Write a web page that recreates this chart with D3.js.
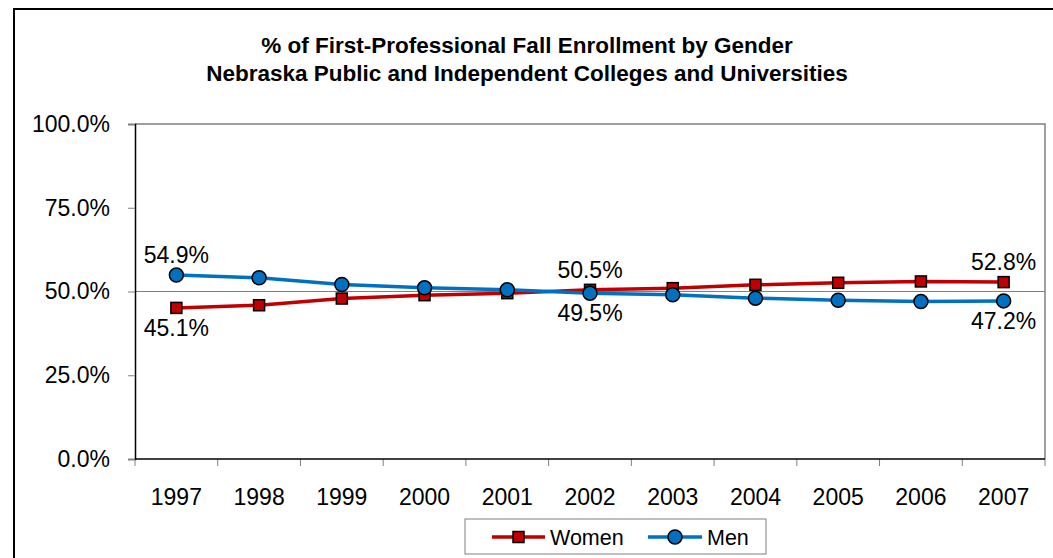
<!DOCTYPE html>
<html>
<head>
<meta charset="utf-8">
<script src="https://cdn.jsdelivr.net/npm/d3@7"></script>
<style>
    body { margin: 0; background: #fff; }
    text { font-family: "Liberation Sans", Arial, sans-serif; }
</style>
</head>
<body>
<div id="chart"></div>
<script>
const years = ["1997", "1998", "1999", "2000", "2001", "2002", "2003", "2004", "2005", "2006", "2007"];
const women = [45.1, 45.9, 47.9, 48.9, 49.5, 50.5, 51.0, 52.0, 52.6, 53.0, 52.8];
const men = [54.9, 54.1, 52.1, 51.1, 50.5, 49.5, 49.0, 48.0, 47.4, 47.0, 47.2];
const yTicks = [0, 25, 50, 75, 100];
const labelYears = ["1997", "2002", "2007"];
const titleLines = [
    "% of First-Professional Fall Enrollment by Gender",
    "Nebraska Public and Independent Colleges and Universities"
];

class GenderChart {
    constructor(width, height, selector) {
        this._width = width;
        this._height = height;
        this._selector = selector;
        this._plot = { left: 135, right: 1045, top: 124, bottom: 459 };
    }

    render() {
        d3.select(this._selector).selectAll('*').remove();
        var svg = d3.select(this._selector)
            .append("svg")
            .attr("width", this._width)
            .attr("height", this._height);
        var p = this._plot;

        // outer chart border (runs off the picture on right and bottom)
        svg.append('rect')
            .attr('x', 14).attr('y', 9)
            .attr('width', 1060).attr('height', 570)
            .attr('fill', 'none')
            .attr('stroke', '#000')
            .style('stroke-width', 2);

        svg.append('g').selectAll('text')
            .data(titleLines)
            .join('text')
            .attr('x', 527)
            .attr('y', (d, i) => 53 + i * 28)
            .attr('text-anchor', 'middle')
            .style('font-size', '22.5px')
            .style('font-weight', 'bold')
            .text(d => d);

        var xScale = d3.scaleBand()
            .domain(years)
            .range([p.left, p.right]);
        var yScale = d3.scaleLinear()
            .domain([0, 100])
            .range([p.bottom, p.top]);

        // plot area border (top/right grey)
        svg.append('path')
            .attr('d', `M${p.left},${p.top}H${p.right}V${p.bottom}`)
            .attr('fill', 'none')
            .attr('stroke', '#808080')
            .style('stroke-width', 1.5);

        // 50% line
        svg.append('line')
            .attr('x1', p.left).attr('x2', p.right)
            .attr('y1', yScale(50)).attr('y2', yScale(50))
            .attr('stroke', '#808080')
            .style('stroke-width', 1);

        var yAxis = svg.append('g')
            .attr('transform', `translate(${p.left},0)`)
            .call(d3.axisLeft(yScale)
                .tickValues(yTicks)
                .tickSize(7)
                .tickPadding(18)
                .tickFormat(d => d.toFixed(1) + '%'));
        yAxis.select('.domain').attr('stroke', '#000').style('stroke-width', 1.5);
        yAxis.selectAll('.tick line').attr('stroke', '#808080');
        yAxis.selectAll('text')
            .style('font-size', '23px')
            .style('font-family', '"Liberation Sans", Arial, sans-serif')
            .attr('fill', '#000');

        var xAxis = svg.append('g')
            .attr('transform', `translate(0,${p.bottom})`)
            .call(d3.axisBottom(xScale).tickSize(0).tickPadding(30));
        xAxis.select('.domain').remove();
        xAxis.selectAll('text')
            .style('font-size', '23px')
            .style('font-family', '"Liberation Sans", Arial, sans-serif')
            .attr('fill', '#000');

        // category boundary ticks
        var bounds = years.map(d => xScale(d)).concat([p.right]);
        svg.append('g').selectAll('line')
            .data(bounds)
            .join('line')
            .attr('x1', d => d).attr('x2', d => d)
            .attr('y1', p.bottom).attr('y2', p.bottom + 7)
            .attr('stroke', '#808080');
        svg.append('line')
            .attr('x1', p.left).attr('x2', p.right)
            .attr('y1', p.bottom).attr('y2', p.bottom)
            .attr('stroke', '#000')
            .style('stroke-width', 1.5);

        var cx = d => xScale(d) + xScale.bandwidth() / 2;
        var line = d3.line()
            .x((d, i) => cx(years[i]))
            .y(d => yScale(d));

        var series = [
            { name: "Women", values: women, color: "#C00000", shape: "square" },
            { name: "Men", values: men, color: "#0070C0", shape: "circle" }
        ];

        series.forEach(s => {
            svg.append('path')
                .datum(s.values)
                .attr('fill', 'none')
                .attr('stroke', s.color)
                .style('stroke-width', 3.5)
                .attr('d', line);
            var g = svg.append('g');
            s.values.forEach((v, i) => {
                drawMarker(g, s.shape, cx(years[i]), yScale(v), s.color);
            });
        });

        // data labels: the higher series above, the lower one below
        labelYears.forEach(yr => {
            var i = years.indexOf(yr);
            series.forEach(s => {
                var other = series.find(o => o !== s).values[i];
                var v = s.values[i];
                var isTop = v > other;
                svg.append('text')
                    .attr('x', cx(yr))
                    .attr('y', isTop ? yScale(v) - 12 : yScale(v) + 28)
                    .attr('text-anchor', 'middle')
                    .style('font-size', '23px')
                    .text(v.toFixed(1) + '%');
            });
        });

        // legend
        var lg = svg.append('g');
        lg.append('rect')
            .attr('x', 465).attr('y', 519)
            .attr('width', 301).attr('height', 35)
            .attr('fill', '#fff')
            .attr('stroke', '#808080');
        var items = [
            { s: series[0], x1: 492, x2: 545, tx: 550 },
            { s: series[1], x1: 648, x2: 702, tx: 707 }
        ];
        items.forEach(it => {
            lg.append('line')
                .attr('x1', it.x1).attr('x2', it.x2)
                .attr('y1', 537).attr('y2', 537)
                .attr('stroke', it.s.color)
                .style('stroke-width', 3.5);
            drawMarker(lg, it.s.shape, (it.x1 + it.x2) / 2, 537, it.s.color);
            lg.append('text')
                .attr('x', it.tx).attr('y', 545)
                .style('font-size', '21.5px')
                .text(it.s.name);
        });

        function drawMarker(g, shape, x, y, color) {
            if (shape === "square") {
                g.append('rect')
                    .attr('x', x - 5.5).attr('y', y - 5.5)
                    .attr('width', 11).attr('height', 11)
                    .attr('fill', color)
                    .attr('stroke', '#000')
                    .style('stroke-width', 1.5);
            } else {
                g.append('circle')
                    .attr('cx', x).attr('cy', y)
                    .attr('r', 7)
                    .attr('fill', color)
                    .attr('stroke', '#000')
                    .style('stroke-width', 1.5);
            }
        }
    }
}

new GenderChart(1053, 558, "#chart").render();
</script>
</body>
</html>
